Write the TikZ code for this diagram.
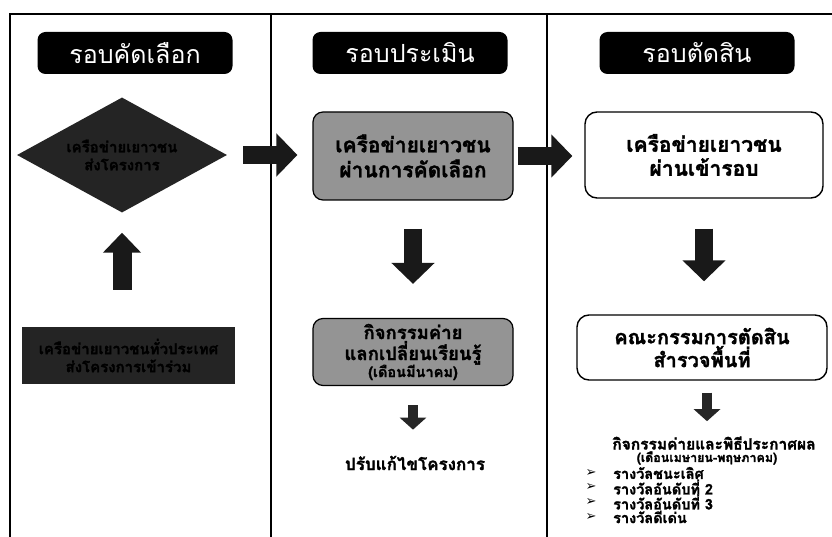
\documentclass[tikz,border=0pt]{standalone}
\usepackage{fontspec}
\newfontfamily\thai[Script=Thai, BoldFeatures={FakeBold=1.6}]{Loma}
\newfontfamily\symf{DejaVu Sans}
\usetikzlibrary{arrows.meta,shapes.geometric}
\begin{document}
\begin{tikzpicture}[x=1pt,y=-1pt,
  header/.style={rectangle, rounded corners=8pt, fill=black, text=white, minimum width=195pt, minimum height=42pt, inner sep=0pt, font=\thai\fontsize{25}{28}\selectfont},
  darkfill/.style={fill=black!86, text=black, font=\thai\bfseries\fontsize{15}{18}\selectfont, align=center, inner sep=0pt},
  graybox/.style={rectangle, rounded corners=10pt, fill=black!42, draw=black, line width=1.2pt, align=center, inner sep=0pt, font=\thai\bfseries\fontsize{21}{25}\selectfont},
  whitebox/.style={rectangle, rounded corners=12pt, fill=white, draw=black, line width=1.4pt, align=center, inner sep=0pt, font=\thai\bfseries\fontsize{21}{24}\selectfont},
  plain/.style={inner sep=0pt, font=\thai\bfseries\fontsize{16}{18}\selectfont},
  listitem/.style={inner sep=0pt, anchor=west, font=\thai\bfseries\fontsize{14.5}{16}\selectfont},
  bullet/.style={inner sep=0pt, font=\symf\bfseries\fontsize{13}{14}\selectfont},
  fatarrow/.style={draw=black!90, line width=18pt, -{Triangle[length=21pt,width=42pt]}},
  smallarrow/.style={draw=black!85, line width=10pt, -{Triangle[length=12pt,width=26pt]}},
  frame/.style={draw=black, line width=1.3pt}
]
\useasboundingbox (0,0) rectangle (832,537);
\fill[white] (0,0) rectangle (832,537);
% frame
\draw[frame] (10,537) -- (10,14) -- (832,14);
\draw[frame] (271,14) -- (271,537);
\draw[frame] (547,14) -- (547,537);

% headers
\node[header] (h1) at (135,53) {รอบคัดเลือก};
\node[header] (h2) at (410,53) {รอบประเมิน};
\node[header] (h3) at (697,53) {รอบตัดสิน};

% left column
\node[darkfill, diamond, aspect=1.83, minimum width=210pt, minimum height=115pt] (d) at (122,155) {เครือข่ายเยาวชน\\ส่งโครงการ};
\node[darkfill, rectangle, minimum width=213pt, minimum height=57pt] (lr) at (128.5,355.5) {เครือข่ายเยาวชนทั่วประเทศ\\ส่งโครงการเข้าร่วม};

% middle column
\node[graybox, minimum width=200pt, minimum height=88pt] (m1) at (413,156) {เครือข่ายเยาวชน\\ผ่านการคัดเลือก};
\node[graybox, minimum width=200pt, minimum height=67pt, font=\thai\bfseries\fontsize{18.5}{21}\selectfont] (m2) at (413,352) {กิจกรรมค่าย\\แลกเปลี่ยนเรียนรู้\\[-4pt]{\fontsize{14.5}{15}\selectfont (เดือนมีนาคม)}};
\node[plain, font=\thai\bfseries\fontsize{17}{19}\selectfont] (m3) at (415,463) {ปรับแก้ไขโครงการ};

% right column
\node[whitebox, minimum width=238pt, minimum height=86pt] (r1) at (704,155) {เครือข่ายเยาวชน\\ผ่านเข้ารอบ};
\node[whitebox, minimum width=250pt, minimum height=65pt, font=\thai\bfseries\fontsize{20}{23}\selectfont] (r2) at (702,347.5) {คณะกรรมการตัดสิน\\สำรวจพื้นที่};
\node[plain, font=\thai\bfseries\fontsize{15.5}{17}\selectfont] (r3) at (714,443) {กิจกรรมค่ายและพิธีประกาศผล};
\node[plain, font=\thai\bfseries\fontsize{12.5}{14}\selectfont] (r4) at (707,458) {(เดือนเมษายน-พฤษภาคม)};
\node[bullet] (b1) at (591,473) {➢};
\node[bullet] (b2) at (591,487) {➢};
\node[bullet] (b3) at (591,502) {➢};
\node[bullet] (b4) at (591,517) {➢};
\node[listitem] (l1) at (613,473) {รางวัลชนะเลิศ};
\node[listitem] (l2) at (613,487) {รางวัลอันดับที่ 2};
\node[listitem] (l3) at (613,502) {รางวัลอันดับที่ 3};
\node[listitem] (l4) at (613,517) {รางวัลดีเด่น};

% connectors
\draw[fatarrow, shorten <=16pt, shorten >=15pt] (d.east) -- (d.east -| m1.west);
\draw[fatarrow, shorten <=4pt, shorten >=12pt] (m1.east) -- (m1.east -| r1.west);
\draw[fatarrow, line width=19pt, -{Triangle[length=20pt,width=37pt]}, shorten <=37pt, shorten >=20pt] (d.south |- lr.north) -- (d.south);
\draw[fatarrow, shorten <=28pt, shorten >=34pt] (m1.south) -- (m2.north);
\draw[fatarrow, shorten <=30pt, shorten >=33pt] (r1.south) -- (r1.south |- r2.north);
\draw[smallarrow, shorten <=19pt, shorten >=26pt] (m2.south) -- (m2.south |- m3.north);
\draw[smallarrow, shorten <=12pt, shorten >=15pt] (r2.south -| r4.north) -- (r4.north |- r3.north);
\end{tikzpicture}
\end{document}
